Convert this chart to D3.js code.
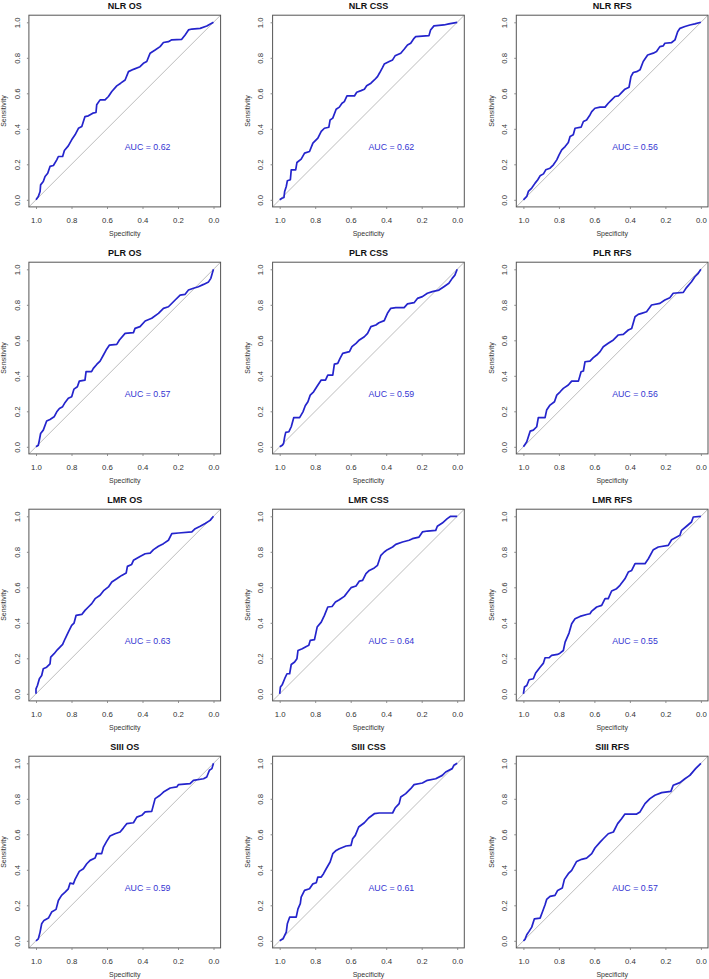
<!DOCTYPE html>
<html>
<head>
<meta charset="utf-8">
<script src="https://cdn.jsdelivr.net/npm/d3@7"></script>
<style>
body { margin: 0; background: #fff; }
svg { display: block; font-family: "Liberation Sans", Arial, sans-serif; }
</style>
</head>
<body>
<svg></svg>
<script>
// panel titles and AUC values, row by row
var titles = ["NLR OS", "NLR CSS", "NLR RFS",
              "PLR OS", "PLR CSS", "PLR RFS",
              "LMR OS", "LMR CSS", "LMR RFS",
              "SIII OS", "SIII CSS", "SIII RFS"];
var aucs = ["0.62", "0.62", "0.56",
            "0.57", "0.59", "0.56",
            "0.63", "0.64", "0.55",
            "0.59", "0.61", "0.57"];
var tickValues = [1.0, 0.8, 0.6, 0.4, 0.2, 0.0];

// ROC curves (specificity, sensitivity)
var nlrOsSpec = [1, .987, .977, .974, .959, .949, .934, .921, .902, .883, .874, .850, .840, .818, .799, .780, .761, .742, .724, .705, .680, .662, .658, .639, .611, .592, .573, .545, .523, .498, .479, .451, .414, .395, .376, .357, .329, .301, .282, .254, .235, .179, .160, .141, .122, .075, .038, 0];
var nlrOsSens = [0, .019, .047, .084, .103, .131, .150, .188, .193, .225, .244, .244, .278, .304, .338, .366, .403, .413, .469, .473, .488, .492, .535, .563, .563, .582, .610, .642, .657, .675, .722, .735, .750, .769, .779, .826, .844, .863, .886, .891, .901, .904, .929, .957, .962, .966, .979, 1];

var nlrCssSpec = [1, .987, .976, .972, .963, .957, .940, .935, .910, .903, .879, .860, .832, .813, .785, .766, .748, .723, .716, .701, .682, .664, .649, .636, .621, .579, .566, .542, .523, .510, .486, .467, .449, .436, .421, .411, .383, .364, .350, .318, .299, .280, .262, .243, .234, .159, .150, .131, .075, .047, 0];
var nlrCssSens = [0, .009, .013, .047, .075, .107, .113, .169, .169, .210, .229, .263, .272, .319, .347, .385, .403, .409, .450, .460, .510, .522, .544, .553, .585, .585, .606, .615, .623, .642, .657, .675, .694, .717, .745, .765, .779, .788, .811, .826, .848, .872, .882, .910, .919, .925, .957, .980, .985, .991, 1];

var nlrRfsSpec = [1, .981, .972, .953, .934, .919, .906, .887, .874, .850, .831, .812, .799, .784, .765, .747, .737, .719, .709, .675, .662, .644, .625, .615, .597, .568, .540, .522, .503, .484, .465, .447, .428, .405, .394, .381, .362, .343, .325, .300, .268, .250, .231, .212, .203, .165, .146, .131, .118, .090, .062, .034, 0];
var nlrRfsSens = [0, .019, .047, .066, .094, .113, .135, .146, .169, .178, .197, .225, .253, .281, .300, .323, .356, .366, .403, .409, .441, .450, .478, .497, .516, .522, .522, .544, .563, .582, .585, .604, .623, .634, .694, .717, .722, .732, .779, .816, .826, .835, .863, .867, .882, .886, .901, .947, .966, .976, .985, .991, 1];

var plrOsSpec = [1, .987, .981, .974, .959, .940, .921, .898, .883, .868, .850, .836, .818, .799, .786, .767, .756, .724, .718, .687, .677, .658, .639, .620, .605, .586, .545, .530, .498, .451, .442, .414, .385, .348, .310, .282, .254, .216, .188, .160, .141, .113, .085, .056, .028, .015, .004, 0];
var plrOsSens = [0, .009, .038, .075, .094, .145, .154, .169, .197, .216, .226, .250, .273, .282, .325, .338, .370, .376, .423, .423, .442, .464, .483, .517, .545, .573, .577, .602, .639, .643, .667, .677, .709, .724, .752, .780, .789, .827, .855, .859, .883, .893, .902, .915, .929, .949, .987, 1];

var plrCssSpec = [1, .985, .978, .972, .966, .948, .935, .921, .888, .869, .856, .841, .828, .809, .791, .766, .742, .729, .701, .692, .673, .660, .645, .607, .593, .570, .551, .523, .505, .486, .458, .441, .411, .393, .374, .346, .299, .280, .243, .224, .196, .168, .140, .103, .075, .047, .028, .013, 0];
var plrCssSens = [0, .009, .019, .056, .081, .085, .113, .164, .164, .197, .231, .254, .291, .310, .338, .376, .376, .404, .404, .466, .470, .498, .526, .536, .564, .583, .602, .620, .639, .677, .686, .699, .711, .752, .780, .784, .784, .805, .812, .836, .846, .865, .874, .883, .902, .921, .949, .967, 1];

var plrRfsSpec = [1, .991, .981, .972, .962, .944, .925, .916, .878, .869, .850, .825, .812, .793, .775, .747, .728, .690, .675, .662, .653, .625, .606, .587, .568, .550, .522, .493, .465, .437, .409, .390, .371, .353, .334, .306, .278, .231, .203, .175, .156, .099, .081, .053, .034, .015, 0];
var plrRfsSens = [0, .013, .028, .056, .088, .094, .113, .164, .164, .207, .235, .254, .291, .310, .329, .348, .370, .370, .423, .427, .479, .483, .502, .517, .536, .564, .583, .602, .630, .633, .658, .667, .733, .746, .752, .761, .799, .808, .827, .840, .865, .870, .897, .930, .958, .977, 1];

var lmrOsSpec = [1, 1, .992, .981, .968, .959, .940, .921, .917, .898, .880, .865, .850, .836, .818, .799, .786, .774, .742, .724, .705, .686, .667, .639, .617, .592, .573, .545, .517, .492, .485, .461, .451, .414, .385, .357, .338, .310, .282, .254, .235, .197, .122, .103, .075, .047, .019, 0];
var lmrOsSens = [0, .028, .047, .085, .103, .141, .150, .169, .207, .226, .248, .263, .278, .310, .348, .385, .398, .442, .447, .470, .489, .508, .536, .555, .583, .602, .630, .648, .667, .680, .718, .729, .752, .774, .789, .793, .812, .831, .846, .865, .902, .906, .912, .930, .944, .959, .977, 1];

var lmrCssSpec = [1, .996, .985, .972, .959, .944, .935, .916, .903, .897, .873, .850, .836, .828, .804, .789, .766, .748, .729, .705, .686, .664, .636, .617, .598, .570, .551, .533, .514, .495, .467, .449, .430, .411, .393, .364, .346, .308, .271, .252, .215, .196, .168, .121, .112, .084, .056, .037, 0];
var lmrCssSens = [0, .038, .053, .085, .113, .113, .165, .179, .197, .244, .254, .267, .273, .301, .305, .376, .404, .442, .489, .492, .517, .530, .549, .573, .598, .607, .635, .639, .677, .695, .709, .724, .780, .799, .812, .827, .842, .855, .865, .874, .883, .912, .917, .921, .944, .962, .987, 1, 1];

var lmrRfsSpec = [1, .994, .981, .968, .944, .931, .906, .887, .878, .856, .841, .808, .794, .775, .765, .743, .728, .709, .681, .644, .625, .615, .587, .559, .540, .522, .503, .475, .456, .428, .409, .390, .371, .315, .296, .268, .240, .184, .165, .118, .109, .081, .053, .043, 0];
var lmrRfsSens = [0, .038, .047, .079, .085, .117, .150, .173, .203, .203, .216, .222, .229, .244, .291, .342, .395, .423, .436, .447, .451, .466, .489, .498, .536, .536, .579, .592, .611, .648, .686, .695, .733, .733, .761, .812, .827, .836, .868, .893, .921, .944, .968, .996, 1];

var siiiOsSpec = [1, .987, .977, .968, .955, .930, .912, .887, .874, .856, .836, .818, .808, .789, .780, .756, .733, .714, .695, .667, .658, .630, .620, .602, .583, .555, .526, .508, .489, .451, .432, .404, .385, .348, .329, .301, .282, .244, .207, .197, .132, .113, .056, .038, .023, .009, 0];
var siiiOsSens = [0, .011, .049, .096, .115, .128, .162, .177, .227, .256, .274, .293, .325, .321, .346, .391, .406, .434, .453, .466, .491, .491, .528, .560, .590, .603, .613, .635, .660, .665, .697, .707, .726, .729, .801, .820, .838, .861, .867, .880, .885, .904, .913, .923, .961, .970, 1];

var siiiCssSpec = [1, .981, .972, .963, .957, .944, .907, .897, .884, .879, .860, .832, .813, .794, .785, .766, .753, .738, .716, .701, .682, .664, .626, .598, .589, .574, .555, .523, .499, .467, .439, .364, .350, .327, .318, .290, .262, .243, .196, .168, .121, .084, .065, .028, .019, 0];
var siiiCssSens = [0, .011, .030, .049, .096, .133, .133, .180, .209, .246, .284, .293, .321, .327, .359, .359, .378, .406, .444, .491, .509, .519, .534, .538, .575, .594, .641, .665, .692, .716, .720, .720, .748, .773, .810, .829, .857, .880, .889, .904, .913, .932, .951, .970, .989, 1];

var siiiRfsSpec = [1, .991, .981, .968, .953, .938, .906, .893, .878, .869, .850, .822, .807, .781, .769, .747, .728, .700, .672, .644, .615, .597, .568, .550, .522, .493, .469, .447, .428, .362, .343, .315, .287, .259, .221, .169, .156, .118, .090, .062, .030, 0];
var siiiRfsSens = [0, .008, .034, .053, .077, .124, .128, .162, .203, .233, .250, .256, .284, .297, .346, .378, .397, .447, .459, .466, .491, .523, .556, .575, .603, .613, .660, .688, .714, .714, .726, .773, .801, .820, .835, .842, .876, .891, .913, .932, .970, 1];

var specList = [nlrOsSpec, nlrCssSpec, nlrRfsSpec, plrOsSpec, plrCssSpec, plrRfsSpec,
                lmrOsSpec, lmrCssSpec, lmrRfsSpec, siiiOsSpec, siiiCssSpec, siiiRfsSpec];
var sensList = [nlrOsSens, nlrCssSens, nlrRfsSens, plrOsSens, plrCssSens, plrRfsSens,
                lmrOsSens, lmrCssSens, lmrRfsSens, siiiOsSens, siiiCssSens, siiiRfsSens];

var svgWidth = 709, svgHeight = 979;
var svg = d3.select("svg")
    .attr("width", svgWidth)
    .attr("height", svgHeight);

// size of the 0..1 range and grid spacing
var plotSize = 177.5;
var colStep = 243.7, rowStep = 247;
var firstX = 36, firstY = 22.3;

var xScale = d3.scaleLinear().domain([1, 0]).range([0, plotSize]);
var yScale = d3.scaleLinear().domain([0, 1]).range([plotSize, 0]);
var lo = -0.04, hi = 1.04;

var line = d3.line()
    .x(function(d) { return xScale(d[0]); })
    .y(function(d) { return yScale(d[1]); });

titles.forEach(function(title, i) {
    var col = i % 3, row = Math.floor(i / 3);
    var g = svg.append("g")
        .attr("transform", "translate(" + (firstX + col * colStep) + "," + (firstY + row * rowStep) + ")");

    var left = xScale(hi), right = xScale(lo), top = yScale(hi), bottom = yScale(lo);

    // diagonal reference line
    g.append("line")
        .attr("x1", left).attr("y1", bottom)
        .attr("x2", right).attr("y2", top)
        .attr("stroke", "#bdbdbd")
        .attr("stroke-width", 1);

    // roc curve
    g.append("path")
        .datum(d3.zip(specList[i], sensList[i]))
        .attr("d", line)
        .attr("fill", "none")
        .attr("stroke", "#2424cc")
        .attr("stroke-width", 1.7)
        .attr("stroke-linejoin", "round");

    // box
    g.append("rect")
        .attr("x", left).attr("y", top)
        .attr("width", right - left).attr("height", bottom - top)
        .attr("fill", "none")
        .attr("stroke", "#555")
        .attr("stroke-width", 1);

    // x axis
    var xAxis = g.append("g")
        .attr("transform", "translate(0," + bottom + ")")
        .call(d3.axisBottom(xScale).tickValues(tickValues).tickFormat(d3.format(".1f")).tickSize(2).tickPadding(9));
    // y axis, labels turned like R does
    var yAxis = g.append("g")
        .attr("transform", "translate(" + left + ",0)")
        .call(d3.axisLeft(yScale).tickValues(tickValues).tickFormat(d3.format(".1f")).tickSize(2));
    yAxis.selectAll("text")
        .attr("x", null).attr("dy", "0.35em")
        .attr("text-anchor", "middle")
        .attr("transform", "translate(-12,0) rotate(-90)");

    [xAxis, yAxis].forEach(function(a) {
        a.select(".domain").remove();
        a.selectAll("line").attr("stroke", "#888");
        a.selectAll("text")
            .attr("fill", "#333")
            .style("font-size", "7.8px")
            .style("font-family", "Liberation Sans, Arial, sans-serif");
    });

    g.append("text")
        .attr("x", plotSize / 2).attr("y", bottom + 27)
        .attr("dy", "0.35em")
        .attr("text-anchor", "middle")
        .attr("fill", "#333")
        .style("font-size", "7px")
        .text("Specificity");

    g.append("text")
        .attr("transform", "translate(" + (left - 25) + "," + (plotSize / 2) + ") rotate(-90)")
        .attr("dy", "0.35em")
        .attr("text-anchor", "middle")
        .attr("fill", "#333")
        .style("font-size", "7px")
        .text("Sensitivity");

    g.append("text")
        .attr("x", plotSize / 2).attr("y", top - 9)
        .attr("dy", "0.35em")
        .attr("text-anchor", "middle")
        .attr("fill", "#111")
        .style("font-size", "9px")
        .style("font-weight", "bold")
        .text(title);

    g.append("text")
        .attr("x", xScale(0.5)).attr("y", yScale(0.3))
        .attr("dy", "0.35em")
        .attr("fill", "#3535d2")
        .style("font-size", "8.8px")
        .text("AUC = " + aucs[i]);
});
</script>
</body>
</html>
